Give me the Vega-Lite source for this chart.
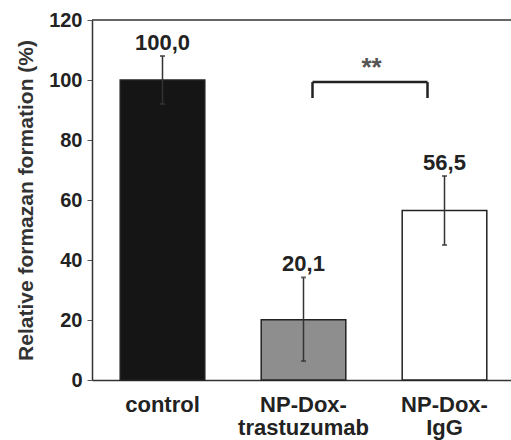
{
  "$schema": "https://vega.github.io/schema/vega-lite/v6.json",
  "width": 423,
  "height": 360,
  "autosize": "none",
  "padding": {"left": 92, "top": 20, "right": 0, "bottom": 60},
  "background": "white",
  "config": {
    "view": {"stroke": null},
    "font": "Liberation Sans"
  },
  "datasets": {
    "bars": [
      {"group": "control", "value": 100.0, "lo": 92, "hi": 108, "label": "100,0"},
      {"group": "NP-Dox-trastuzumab", "value": 20.1, "lo": 6.3, "hi": 34.2, "label": "20,1"},
      {"group": "NP-Dox-IgG", "value": 56.5, "lo": 45, "hi": 68, "label": "56,5"}
    ],
    "sig": [
      {"from": "NP-Dox-trastuzumab", "to": "NP-Dox-IgG", "top": 99.3, "leg": 94, "star": 105.6, "text": "**"}
    ]
  },
  "layer": [
    {
      "data": {"name": "bars"},
      "mark": {"type": "bar", "stroke": "#222222", "strokeWidth": 1.5},
      "encoding": {
        "x": {
          "field": "group", "type": "nominal",
          "scale": {"domain": ["control", "NP-Dox-trastuzumab", "NP-Dox-IgG"], "paddingInner": 0.4, "paddingOuter": 0.2},
          "axis": {
            "title": null, "labelAngle": 0, "ticks": false, "domain": true,
            "domainColor": "#333333", "domainWidth": 1.5,
            "labelFont": "Liberation Sans", "labelFontWeight": "bold", "labelFontSize": 22,
            "labelColor": "#222222", "labelPadding": 14, "labelLineHeight": 23,
            "labelExpr": "indexof(datum.label,'NP-Dox-')==0 ? ['NP-Dox-', substring(datum.label,7)] : datum.label"
          }
        },
        "y": {
          "field": "value", "type": "quantitative",
          "scale": {"domain": [0, 120], "nice": false},
          "axis": {
            "title": "Relative formazan formation (%)",
            "values": [0, 20, 40, 60, 80, 100, 120],
            "grid": false, "domainColor": "#333333", "domainWidth": 1.5,
            "tickColor": "#555555", "tickSize": 5, "tickWidth": 1,
            "labelFont": "Liberation Sans", "labelFontWeight": "bold", "labelFontSize": 20,
            "labelColor": "#222222", "labelPadding": 5,
            "titleFont": "Liberation Sans", "titleFontWeight": "bold", "titleFontSize": 21,
            "titleColor": "#333333", "titlePadding": 12
          }
        },
        "color": {
          "field": "group", "type": "nominal",
          "scale": {"domain": ["control", "NP-Dox-trastuzumab", "NP-Dox-IgG"], "range": ["#151515", "#8e8e8e", "#ffffff"]},
          "legend": null
        }
      }
    },
    {
      "data": {"name": "bars"},
      "mark": {"type": "rule", "color": "#333333", "strokeWidth": 1.5},
      "encoding": {
        "x": {"field": "group", "type": "nominal"},
        "y": {"field": "lo", "type": "quantitative"},
        "y2": {"field": "hi"}
      }
    },
    {
      "data": {"name": "bars"},
      "mark": {"type": "tick", "color": "#333333", "size": 5, "thickness": 2},
      "encoding": {
        "x": {"field": "group", "type": "nominal"},
        "y": {"field": "hi", "type": "quantitative"}
      }
    },
    {
      "data": {"name": "bars"},
      "mark": {"type": "tick", "color": "#333333", "size": 5, "thickness": 2},
      "encoding": {
        "x": {"field": "group", "type": "nominal"},
        "y": {"field": "lo", "type": "quantitative"}
      }
    },
    {
      "data": {"name": "bars"},
      "mark": {"type": "text", "font": "Liberation Sans", "fontWeight": "bold", "fontSize": 22, "color": "#222222", "baseline": "middle", "dy": -13},
      "encoding": {
        "x": {"field": "group", "type": "nominal"},
        "y": {"field": "hi", "type": "quantitative"},
        "text": {"field": "label"}
      }
    },
    {
      "data": {"values": [{"v": 120}]},
      "mark": {"type": "rule", "color": "#333333", "strokeWidth": 1.5},
      "encoding": {"y": {"field": "v", "type": "quantitative"}}
    },
    {
      "data": {"name": "sig"},
      "mark": {"type": "rule", "color": "#222222", "strokeWidth": 2.5, "xOffset": 9, "x2Offset": -17},
      "encoding": {
        "x": {"field": "from", "type": "nominal"},
        "x2": {"field": "to"},
        "y": {"field": "top", "type": "quantitative"}
      }
    },
    {
      "data": {"name": "sig"},
      "mark": {"type": "rule", "color": "#222222", "strokeWidth": 2.5, "xOffset": 9},
      "encoding": {
        "x": {"field": "from", "type": "nominal"},
        "y": {"field": "top", "type": "quantitative"},
        "y2": {"field": "leg"}
      }
    },
    {
      "data": {"name": "sig"},
      "mark": {"type": "rule", "color": "#222222", "strokeWidth": 2.5, "xOffset": -17},
      "encoding": {
        "x": {"field": "to", "type": "nominal"},
        "y": {"field": "top", "type": "quantitative"},
        "y2": {"field": "leg"}
      }
    },
    {
      "data": {"name": "sig"},
      "mark": {"type": "text", "font": "Liberation Sans", "fontWeight": "bold", "fontSize": 26, "color": "#555555", "baseline": "middle", "dx": 68, "dy": 5},
      "encoding": {
        "x": {"field": "from", "type": "nominal"},
        "y": {"field": "star", "type": "quantitative"},
        "text": {"field": "text"}
      }
    }
  ]
}
